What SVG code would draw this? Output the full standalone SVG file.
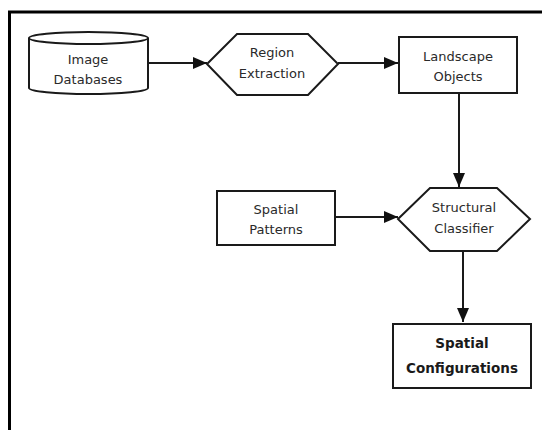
<svg xmlns="http://www.w3.org/2000/svg" width="542" height="430" viewBox="0 0 542 430">
<defs>
<style>
.n{fill:#fff;stroke:#1a1a1a;stroke-width:2}
.t{font-family:"DejaVu Sans",sans-serif;font-size:13px;fill:#2a2a2a;text-anchor:middle}
.b{font-family:"DejaVu Sans",sans-serif;font-size:13.5px;font-weight:bold;fill:#1a1a1a;text-anchor:middle}
.c{fill:none;stroke:#1a1a1a;stroke-width:2}
</style>
<marker id="ah" viewBox="0 0 14 12" refX="14" refY="6" markerWidth="14" markerHeight="12" markerUnits="userSpaceOnUse" orient="auto">
<path d="M0,0L14,6L0,12z" fill="#111"/>
</marker>
</defs>
<rect width="542" height="430" fill="#fff"/>
<path d="M9.5,430V12H542" fill="none" stroke="#000" stroke-width="3"/>
<g id="connectors">
<path class="c" d="M148,63H207" marker-end="url(#ah)"/>
<path class="c" d="M338,63H398" marker-end="url(#ah)"/>
<path class="c" d="M459,93V187" marker-end="url(#ah)"/>
<path class="c" d="M335,217H398" marker-end="url(#ah)"/>
<path class="c" d="M463,251V322" marker-end="url(#ah)"/>
</g>
<g id="image-databases">
<path class="n" d="M29,38V88A59.5,6 0 0 0 148,88V38"/>
<ellipse class="n" cx="88.5" cy="38" rx="59.5" ry="6"/>
<text class="t" x="88" y="64">Image</text>
<text class="t" x="88" y="84">Databases</text>
</g>
<g id="region-extraction">
<path class="n" d="M207,64L237,34H308L338,64L308,95H237Z"/>
<text class="t" x="272" y="57">Region</text>
<text class="t" x="272" y="78">Extraction</text>
</g>
<g id="landscape-objects">
<rect class="n" x="399" y="37" width="118" height="56"/>
<text class="t" x="458" y="61">Landscape</text>
<text class="t" x="458" y="81">Objects</text>
</g>
<g id="spatial-patterns">
<rect class="n" x="217" y="191" width="118" height="54"/>
<text class="t" x="276" y="214">Spatial</text>
<text class="t" x="276" y="234">Patterns</text>
</g>
<g id="structural-classifier">
<path class="n" d="M398,219L430,188H497L530,219L497,251H430Z"/>
<text class="t" x="464" y="212">Structural</text>
<text class="t" x="464" y="233">Classifier</text>
</g>
<g id="spatial-configurations">
<rect class="n" x="393" y="324" width="138" height="64" stroke-width="4"/>
<text class="b" x="462" y="348">Spatial</text>
<text class="b" x="462" y="373">Configurations</text>
</g>
</svg>
